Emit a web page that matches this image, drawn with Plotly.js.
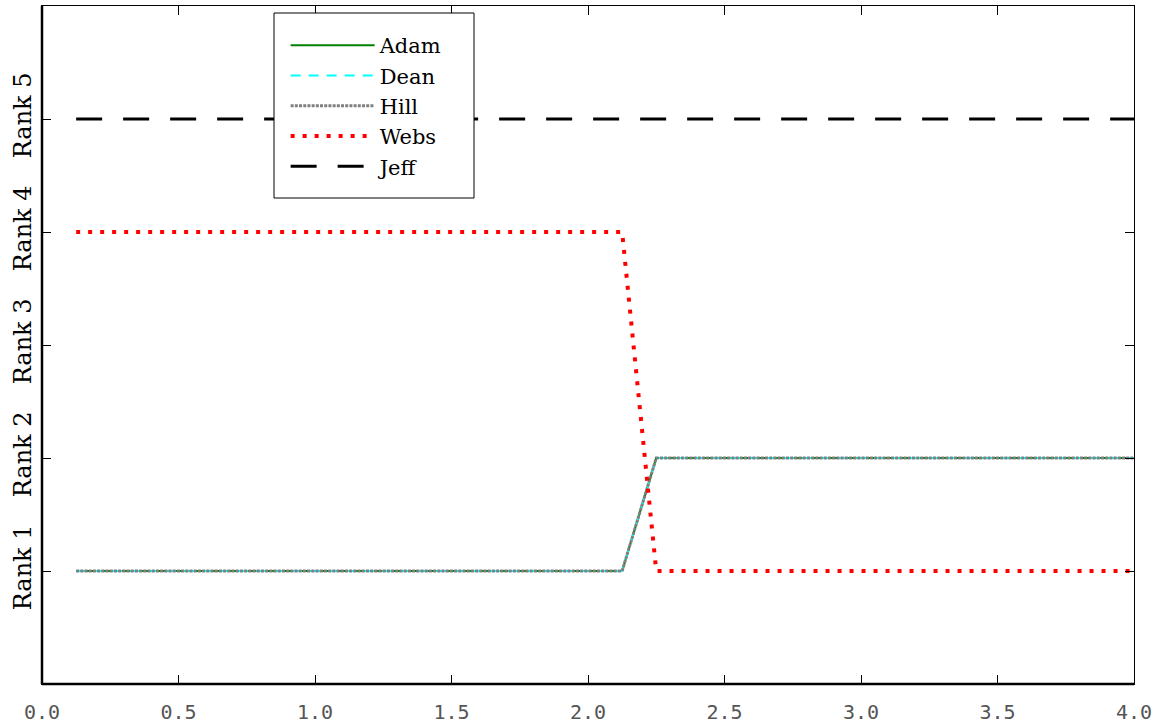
<!DOCTYPE html>
<html>
<head>
<meta charset="utf-8">
<script src="https://cdn.plot.ly/plotly-3.0.1.min.js"></script>
<style>html,body{margin:0;padding:0;background:#fff;}#chart{width:1163px;height:727px;}</style>
</head>
<body>
<div id="chart"></div>
<script>
const xValues = [0.125,0.25,0.375,0.5,0.625,0.75,0.875,1.0,1.125,1.25,1.375,1.5,1.625,1.75,1.875,2.0,2.125,2.25,2.375,2.5,2.625,2.75,2.875,3.0,3.125,3.25,3.375,3.5,3.625,3.75,3.875,4.0];
const adam = [1,1,1,1,1,1,1,1,1,1,1,1,1,1,1,1,1,2,2,2,2,2,2,2,2,2,2,2,2,2,2,2];
const dean = [1,1,1,1,1,1,1,1,1,1,1,1,1,1,1,1,1,2,2,2,2,2,2,2,2,2,2,2,2,2,2,2];
const hill = [1,1,1,1,1,1,1,1,1,1,1,1,1,1,1,1,1,2,2,2,2,2,2,2,2,2,2,2,2,2,2,2];
const webs = [4,4,4,4,4,4,4,4,4,4,4,4,4,4,4,4,4,1,1,1,1,1,1,1,1,1,1,1,1,1,1,1];
const jeff = [5,5,5,5,5,5,5,5,5,5,5,5,5,5,5,5,5,5,5,5,5,5,5,5,5,5,5,5,5,5,5,5];
const seriesNames = ["Adam","Dean","Hill","Webs","Jeff"];
const rankTickVals = [1,2,3,4,5];
const rankTickText = ["Rank 1","Rank 2","Rank 3","Rank 4","Rank 5"];
const xTickVals = [0.0,0.5,1.0,1.5,2.0,2.5,3.0,3.5,4.0];

const traces = [
  {x:xValues, y:adam, name:seriesNames[0], mode:"lines", line:{color:"#008000", width:2}},
  {x:xValues, y:dean, name:seriesNames[1], mode:"lines", line:{color:"#00ffff", width:2, dash:"10px,8px"}},
  {x:xValues, y:hill, name:seriesNames[2], mode:"lines", line:{color:"#808080", width:3, dash:"3px,1.2px"}},
  {x:xValues, y:webs, name:seriesNames[3], mode:"lines", line:{color:"#ff0000", width:4, dash:"4px,8px"}},
  {x:xValues, y:jeff, name:seriesNames[4], mode:"lines", line:{color:"#000000", width:3, dash:"26px,21px"}}
];

const layout = {
  width:1163, height:727,
  margin:{l:42, r:29, t:6, b:43},
  paper_bgcolor:"#fff", plot_bgcolor:"#fff",
  showlegend:true,
  legend:{x:0.2231, y:0.972, xanchor:"left", yanchor:"top", bgcolor:"rgba(0,0,0,0)",
    borderwidth:0, itemwidth:84, tracegroupgap:0,
    font:{family:"DejaVu Serif", size:21, color:"#000"}},
  xaxis:{range:[0,4], tickvals:xTickVals, ticktext:xTickVals.map(v=>v.toFixed(1)),
    showgrid:false, zeroline:false, showline:true, linecolor:"#000", linewidth:1, mirror:"ticks",
    ticks:"inside", ticklen:9, tickwidth:1, tickcolor:"#000", ticklabelstandoff:10,
    tickfont:{family:"DejaVu Sans Mono", size:20, color:"#555"}},
  yaxis:{range:[0,6], tickvals:rankTickVals, ticktext:rankTickText, tickangle:-90,
    showgrid:false, zeroline:false, showline:true, linecolor:"#000", linewidth:1, mirror:"ticks",
    ticks:"inside", ticklen:9, tickwidth:1, tickcolor:"#000",
    tickfont:{family:"DejaVu Serif", size:24, color:"#000"}},
  shapes:[
    {type:"rect", xref:"paper", yref:"paper", x0:(274-42)/1092, x1:(474-42)/1092, y0:1-(198-6)/678, y1:1-(13-6)/678,
      fillcolor:"#fff", line:{color:"#000", width:1}, layer:"above"},
    {type:"line", xref:"paper", yref:"paper", x0:0, x1:0, y0:0, y1:1, line:{color:"#000", width:2.5}, layer:"above"},
    {type:"line", xref:"paper", yref:"paper", x0:0, x1:1, y0:0, y1:0, line:{color:"#000", width:2.5}, layer:"above"}
  ]
};
Plotly.newPlot("chart", traces, layout, {displayModeBar:false, staticPlot:true});
</script>
</body>
</html>
